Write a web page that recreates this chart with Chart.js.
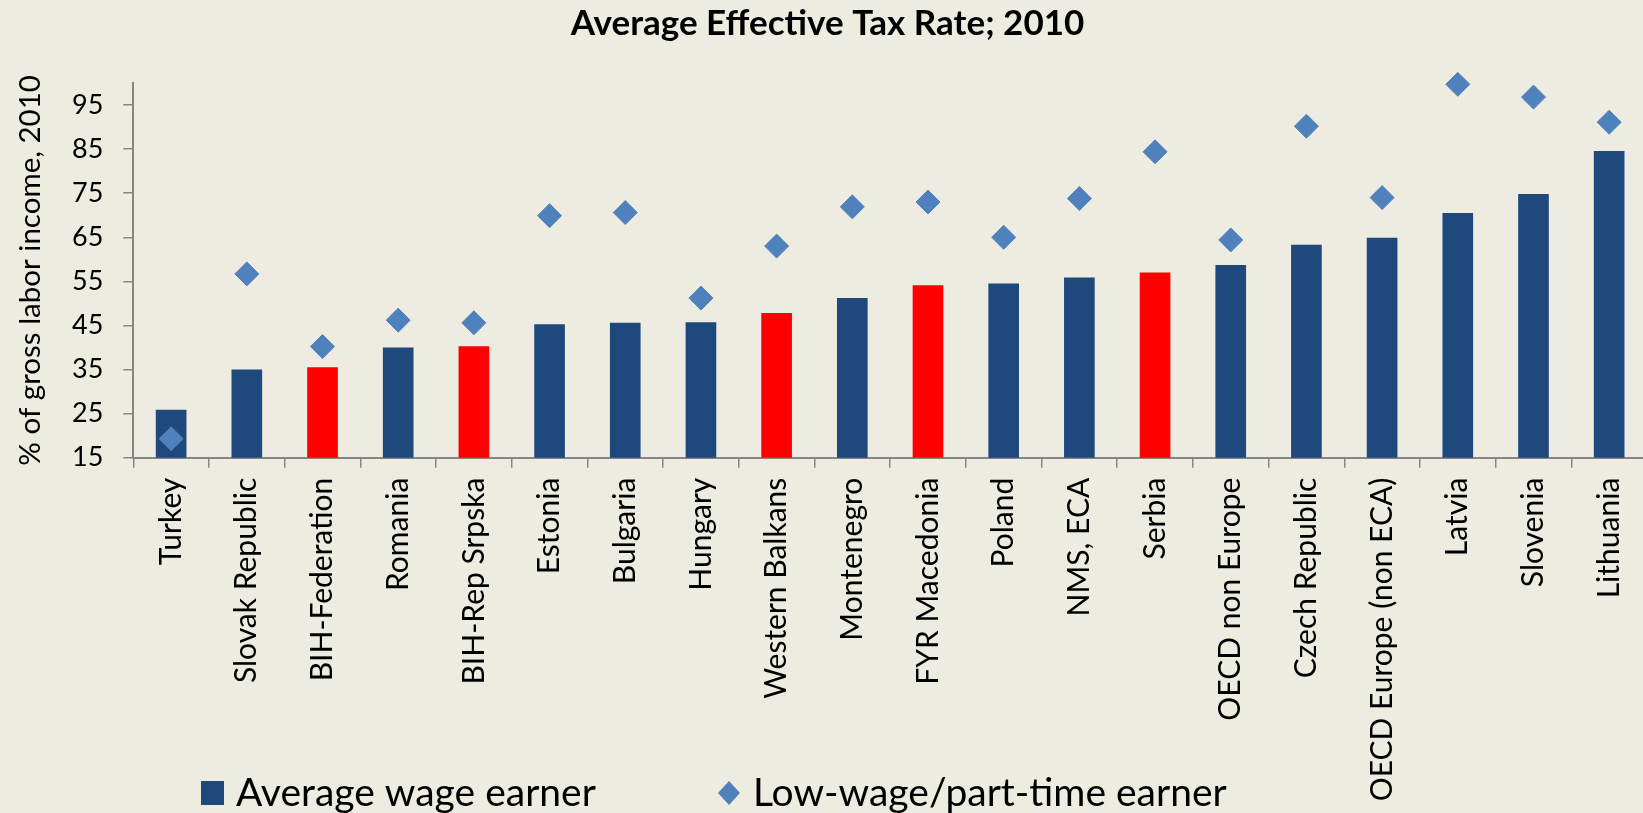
<!DOCTYPE html>
<html>
<head>
<meta charset="utf-8">
<script src="https://cdn.jsdelivr.net/npm/chart.js@4.4.1/dist/chart.umd.min.js"></script>
<style>
  html, body { margin: 0; padding: 0; background: #EEECE1; overflow: hidden; }
  #wrap { position: relative; width: 1660px; height: 813px; }
</style>
</head>
<body>
<div id="wrap"><canvas id="c"></canvas></div>
<script>
// ---- data ----
const categories = ['Turkey','Slovak Republic','BIH-Federation','Romania','BIH-Rep Srpska','Estonia','Bulgaria','Hungary','Western Balkans','Montenegro','FYR Macedonia','Poland','NMS, ECA','Serbia','OECD non Europe','Czech Republic','OECD Europe (non ECA)','Latvia','Slovenia','Lithuania'];
const averageWage = [25.9, 35.0, 35.5, 40.0, 40.3, 45.3, 45.6, 45.7, 47.8, 51.2, 54.1, 54.5, 55.9, 57.0, 58.7, 63.3, 64.9, 70.5, 74.8, 84.6];
const lowWage = [19.3, 56.7, 40.2, 46.2, 45.6, 69.9, 70.6, 51.2, 63.0, 71.9, 73.0, 65.0, 73.8, 84.4, 64.4, 90.2, 74.0, 99.7, 96.8, 91.1];
const highlighted = ['BIH-Federation','BIH-Rep Srpska','Western Balkans','FYR Macedonia','Serbia'];
const yTicks = [15, 25, 35, 45, 55, 65, 75, 85, 95];
const seriesNames = ['Average wage earner', 'Low-wage/part-time earner'];
const chartTitle = 'Average Effective Tax Rate; 2010';
const yTitle = '% of gross labor income, 2010';

// ---- styles ----
const NAVY = '#1F497D', RED = '#FF0000', LIGHT = '#4F81BD', AXIS = '#868686';
Chart.defaults.font.family = 'Lato';
Chart.defaults.color = '#000';

const legendPlugin = {
  id: 'customLegend',
  afterDraw(chart) {
    const ctx = chart.ctx;
    ctx.save();
    ctx.fillStyle = NAVY;
    ctx.fillRect(201, 781, 23, 24);
    ctx.fillStyle = LIGHT;
    ctx.beginPath();
    ctx.moveTo(729, 781); ctx.lineTo(740, 793); ctx.lineTo(729, 805); ctx.lineTo(718, 793); ctx.closePath();
    ctx.fill();
    ctx.fillStyle = '#000';
    ctx.font = '39px Lato';
    ctx.textBaseline = 'alphabetic';
    ctx.fillText(seriesNames[0], 236, 806);
    ctx.fillText(seriesNames[1], 753, 806);
    ctx.restore();
  }
};

new Chart(document.getElementById('c'), {
  type: 'bar',
  data: {
    labels: categories,
    datasets: [
      {
        type: 'line',
        label: seriesNames[1],
        data: lowWage,
        showLine: false,
        pointStyle: 'rectRot',
        pointRadius: 12,
        pointHoverRadius: 12,
        pointBackgroundColor: LIGHT,
        pointBorderColor: LIGHT,
        pointBorderWidth: 1,
        clip: false,
        order: 0
      },
      {
        type: 'bar',
        label: seriesNames[0],
        data: averageWage,
        backgroundColor: (c) => highlighted.includes(categories[c.dataIndex]) ? RED : NAVY,
        borderWidth: 0,
        categoryPercentage: 1,
        barPercentage: 0.405,
        order: 1
      }
    ]
  },
  options: {
    responsive: true,
    maintainAspectRatio: false,
    animation: false,
    layout: { padding: { left: 0, right: 5, top: 0, bottom: 0 } },
    plugins: {
      legend: { display: false },
      tooltip: { enabled: false },
      title: {
        display: true,
        text: chartTitle,
        font: { size: 35, weight: 'bold' },
        color: '#000',
        padding: { top: 3, bottom: 38 }
      }
    },
    scales: {
      x: {
        type: 'category',
        offset: true,
        grid: { offset: true, drawOnChartArea: false, drawTicks: true, tickLength: 10, color: AXIS, lineWidth: 1.5 },
        border: { color: AXIS, width: 2 },
        ticks: { maxRotation: 90, minRotation: 90, autoSkip: false, font: { size: 30 }, padding: 10, color: '#000' },
        afterFit(scale) { scale.height = 355.3; }
      },
      y: {
        min: 15,
        max: 100,
        grid: { drawOnChartArea: false, drawTicks: true, tickLength: 10, color: AXIS, lineWidth: 1.5 },
        border: { color: AXIS, width: 2 },
        ticks: { font: { size: 27 }, padding: 20, color: '#000' },
        afterBuildTicks(scale) { scale.ticks = yTicks.map(v => ({ value: v })); },
        afterFit(scale) { scale.width = 133.3; },
        title: { display: true, text: yTitle, font: { size: 29.5 }, color: '#000', padding: { top: 13, bottom: 0 } }
      }
    }
  },
  plugins: [legendPlugin]
});
</script>
</body>
</html>
